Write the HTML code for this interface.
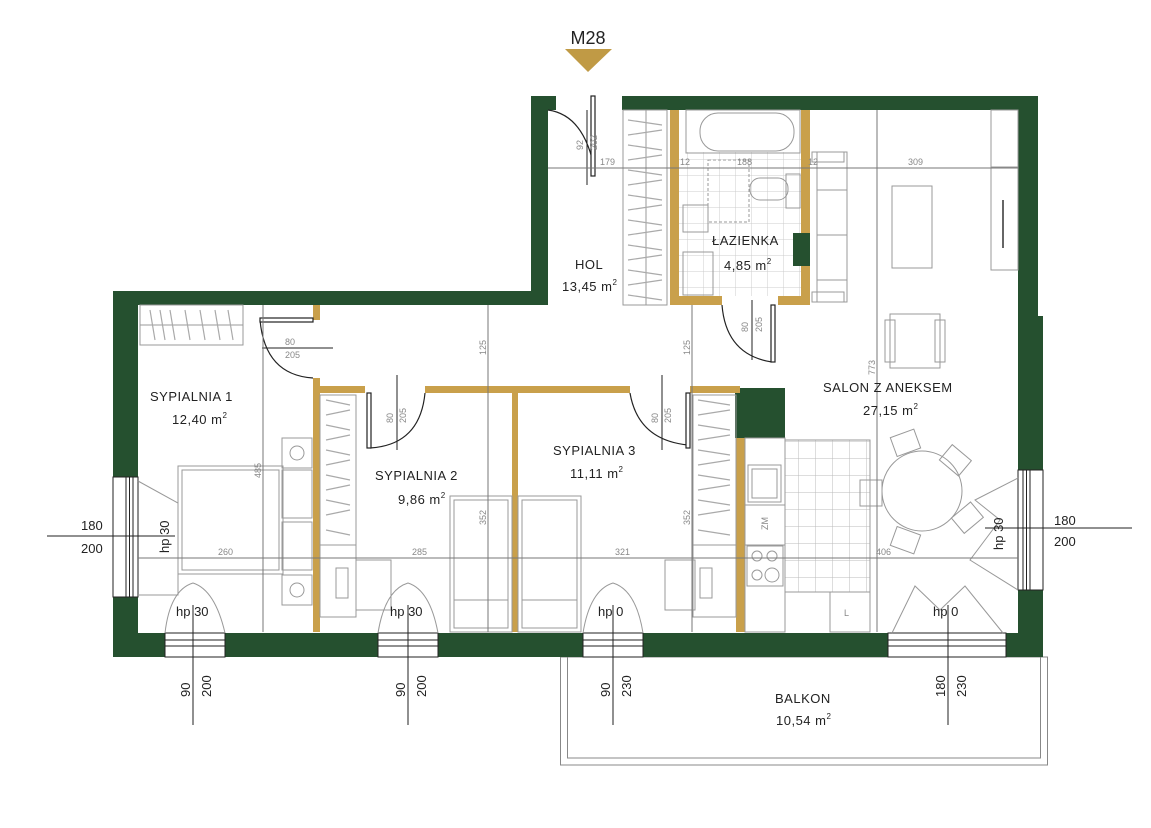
<!DOCTYPE html>
<html><head><meta charset="utf-8"><style>
html,body{margin:0;padding:0;background:#fff;}
svg{display:block;font-family:"Liberation Sans",sans-serif;}
.g{fill:#25502f;}
.au{fill:#c9a04b;}
.th{fill:none;stroke:#999;stroke-width:1;}
.dm{stroke:#777;stroke-width:1;fill:none;}
.bk{stroke:#222;stroke-width:1.2;fill:none;}
.lb{font-size:13px;fill:#222;letter-spacing:0.5px;}
.sm{font-size:9px;fill:#888;}
.wd{font-size:13px;fill:#222;}
</style></head><body>
<svg width="1151" height="828" viewBox="0 0 1151 828" xmlns="http://www.w3.org/2000/svg">
<defs>
<pattern id="tile" width="16" height="16" patternUnits="userSpaceOnUse"><path d="M16 0V16H0" fill="none" stroke="#ccc" stroke-width="1"/></pattern>
<pattern id="tile2" width="17" height="17" patternUnits="userSpaceOnUse"><path d="M17 0V17H0" fill="none" stroke="#bbb" stroke-width="1"/></pattern>
</defs>
<rect width="1151" height="828" fill="#fff"/>

<!-- title -->
<text x="588" y="44" text-anchor="middle" font-size="18" fill="#222">M28</text>
<polygon points="565,49 612,49 588,72" fill="#c09a45"/>

<!-- balcony -->
<rect x="560.5" y="657" width="487" height="108" fill="none" stroke="#888" stroke-width="1"/>
<rect x="567.5" y="657" width="473" height="101" fill="none" stroke="#888" stroke-width="1"/>

<!-- floors / tiles -->
<rect x="679" y="152" width="122" height="144" fill="url(#tile)"/>
<rect x="785" y="440" width="85" height="152" fill="url(#tile2)"/>
<rect x="785" y="440" width="85" height="152" class="th"/>

<!-- outer walls -->
<rect class="g" x="531" y="96" width="25" height="14"/>
<rect class="g" x="531" y="96" width="17" height="209"/>
<rect class="g" x="622" y="96" width="416" height="14"/>
<rect class="g" x="1018" y="96" width="20" height="220"/>
<rect class="g" x="1018" y="316" width="25" height="341"/>
<rect class="g" x="113" y="291" width="435" height="14"/>
<rect class="g" x="113" y="291" width="25" height="366"/>
<rect class="g" x="113" y="633" width="930" height="24"/>
<rect class="g" x="735" y="388" width="50" height="50"/>
<rect class="g" x="793" y="233" width="17" height="33"/>

<!-- windows left/right -->
<rect x="113" y="477" width="25" height="120" fill="#fff" stroke="#222"/>
<rect x="126" y="477" width="7" height="120" fill="#fff" stroke="#222"/>
<line x1="129.5" y1="477" x2="129.5" y2="597" stroke="#222"/>
<rect x="1018" y="470" width="25" height="120" fill="#fff" stroke="#222"/>
<rect x="1023" y="470" width="7" height="120" fill="#fff" stroke="#222"/>
<line x1="1026.5" y1="470" x2="1026.5" y2="590" stroke="#222"/>
<!-- bottom windows -->
<g fill="#fff" stroke="#222">
<rect x="165" y="633" width="60" height="24"/><rect x="165" y="640" width="60" height="6"/>
<rect x="378" y="633" width="60" height="24"/><rect x="378" y="640" width="60" height="6"/>
<rect x="583" y="633" width="60" height="24"/><rect x="583" y="640" width="60" height="6"/>
<rect x="888" y="633" width="118" height="24"/><rect x="888" y="640" width="118" height="6"/>
</g>
<!-- window swing lines -->
<g class="th" stroke="#999">
<polyline points="138,481 178,503 178,595 138,595"/>
<path d="M165 633 Q170 590 193 583 Q215 590 225 633"/>
<path d="M378 633 Q385 590 408 583 Q430 590 438 633"/>
<path d="M583 633 Q590 590 613 583 Q636 590 643 633"/>
<polyline points="892,633 915,586 940,610 965,586 1003,633"/>
<polyline points="1018,478 975,500 1000,520 970,560 1018,590"/>
</g>

<!-- gold interior walls -->
<rect class="au" x="313" y="305" width="7" height="15"/>
<rect class="au" x="313" y="378" width="7" height="254"/>
<rect class="au" x="313" y="386" width="52" height="7"/>
<rect class="au" x="425" y="386" width="205" height="7"/>
<rect class="au" x="690" y="386" width="50" height="7"/>
<rect class="au" x="512" y="390" width="6" height="242"/>
<rect class="au" x="736" y="438" width="9" height="194"/>
<rect class="au" x="670" y="110" width="9" height="195"/>
<rect class="au" x="801" y="110" width="9" height="123"/>
<rect class="au" x="801" y="266" width="9" height="39"/>
<rect class="au" x="670" y="296" width="52" height="9"/>
<rect class="au" x="778" y="296" width="32" height="9"/>

<!-- doors -->
<g class="bk">
<path d="M548 110 Q585 115 595 172"/><rect x="591" y="96" width="4" height="80" fill="#fff"/>
<path d="M260 320 Q265 375 313 378"/><rect x="260" y="318" width="53" height="4" fill="#fff"/>
<path d="M425 393 Q420 445 370 448"/><rect x="367" y="393" width="4" height="55" fill="#fff"/>
<path d="M630 393 Q638 440 688 445"/><rect x="686" y="393" width="4" height="55" fill="#fff"/>
<path d="M722 305 Q726 355 772 362"/><rect x="771" y="305" width="4" height="57" fill="#fff"/>
</g>
<g stroke="#222" stroke-width="1">
<line x1="587" y1="110" x2="587" y2="185"/>
<line x1="262" y1="348" x2="333" y2="348"/>
<line x1="397" y1="375" x2="397" y2="450"/>
<line x1="662" y1="375" x2="662" y2="450"/>
<line x1="752" y1="300" x2="752" y2="360"/>
</g>
<g class="sm" fill="#333" font-size="8">
<text transform="translate(583,150) rotate(-90)">92</text><text transform="translate(597,150) rotate(-90)">202</text>
<text x="285" y="345">80</text><text x="285" y="358">205</text>
<text transform="translate(393,423) rotate(-90)">80</text><text transform="translate(406,423) rotate(-90)">205</text>
<text transform="translate(658,423) rotate(-90)">80</text><text transform="translate(671,423) rotate(-90)">205</text>
<text transform="translate(748,332) rotate(-90)">80</text><text transform="translate(762,332) rotate(-90)">205</text>
</g>

<!-- wardrobes -->
<g class="th">
<rect x="623" y="110" width="44" height="195"/><line x1="646" y1="110" x2="646" y2="305"/>
<rect x="140" y="305" width="103" height="40"/><line x1="140" y1="325" x2="243" y2="325"/>
<rect x="320" y="395" width="36" height="150"/>
<rect x="693" y="395" width="43" height="150"/>
</g>
<g stroke="#aaa" stroke-width="1.2">
<path d="M628 120L662 125M628 135L662 130M628 145L662 150M628 160L662 155M628 170L662 175M628 185L662 180M628 195L662 200M628 210L662 205M628 220L662 225M628 235L662 230M628 245L662 250M628 260L662 255M628 270L662 275M628 285L662 280M628 295L662 300"/>
<path d="M150 310L155 340M160 310L165 340M170 310L175 340M185 310L190 340M200 310L205 340M215 310L220 340M228 310L233 340"/>
<path d="M326 400L350 405M326 415L350 410M326 425L350 430M326 440L350 435M326 450L350 455M326 465L350 460M326 475L350 480M326 490L350 485M326 500L350 505M326 515L350 510M326 530L350 535"/>
<path d="M698 400L730 405M698 415L730 410M698 425L730 430M698 440L730 435M698 450L730 455M698 465L730 460M698 475L730 480M698 490L730 485M698 500L730 505M698 515L730 510M698 530L730 535"/>
</g>

<!-- bathroom fixtures -->
<g class="th" stroke="#888">
<rect x="686" y="110" width="114" height="43"/>
<rect x="700" y="113" width="94" height="38" rx="18"/>
<rect x="750" y="178" width="38" height="22" rx="10"/><rect x="786" y="174" width="14" height="34"/>
<rect x="683" y="205" width="25" height="27"/>
<rect x="683" y="252" width="30" height="43"/>
<rect x="708" y="160" width="41" height="62" stroke-dasharray="3,2"/>
</g>

<!-- living room furniture -->
<g class="th" stroke="#999">
<rect x="817" y="152" width="30" height="150"/>
<line x1="817" y1="190" x2="847" y2="190"/><line x1="817" y1="235" x2="847" y2="235"/><line x1="817" y1="280" x2="847" y2="280"/>
<rect x="812" y="152" width="32" height="10"/><rect x="812" y="292" width="32" height="10"/>
<rect x="892" y="186" width="40" height="82"/>
<rect x="991" y="110" width="27" height="160"/><line x1="991" y1="167" x2="1018" y2="167"/>
<line x1="1003" y1="200" x2="1003" y2="248" stroke="#666" stroke-width="2"/>
<rect x="890" y="314" width="50" height="54"/><rect x="885" y="320" width="10" height="42"/><rect x="935" y="320" width="10" height="42"/>
<circle cx="922" cy="491" r="40"/>
<rect x="860" y="480" width="22" height="26"/>
<rect x="893" y="433" width="25" height="20" transform="rotate(-20 905 443)"/>
<rect x="943" y="450" width="25" height="20" transform="rotate(40 955 460)"/>
<rect x="955" y="508" width="25" height="20" transform="rotate(-40 967 518)"/>
<rect x="893" y="530" width="25" height="20" transform="rotate(20 905 540)"/>
<!-- kitchen -->
<rect x="745" y="438" width="40" height="194"/>
<rect x="748" y="465" width="33" height="37"/><rect x="752" y="469" width="25" height="29"/>
<line x1="745" y1="505" x2="785" y2="505"/><line x1="745" y1="545" x2="785" y2="545"/>
<rect x="747" y="546" width="36" height="40"/>
<circle cx="757" cy="556" r="5"/><circle cx="772" cy="556" r="5"/><circle cx="757" cy="575" r="5"/><circle cx="772" cy="575" r="7"/>
<rect x="830" y="592" width="40" height="40"/>
<!-- bedroom 1 -->
<rect x="178" y="466" width="105" height="108"/><rect x="182" y="470" width="97" height="100"/>
<rect x="282" y="470" width="30" height="48"/><rect x="282" y="522" width="30" height="48"/>
<rect x="282" y="438" width="30" height="30"/><circle cx="297" cy="453" r="7"/>
<rect x="282" y="575" width="30" height="30"/><circle cx="297" cy="590" r="7"/>
<!-- desks -->
<rect x="320" y="545" width="36" height="72"/><rect x="356" y="560" width="35" height="50"/>
<rect x="336" y="568" width="12" height="30"/>
<rect x="693" y="545" width="43" height="72"/><rect x="665" y="560" width="30" height="50"/>
<rect x="700" y="568" width="12" height="30"/>
<!-- beds -->
<rect x="450" y="496" width="62" height="136"/><rect x="454" y="500" width="54" height="128"/>
<rect x="454" y="600" width="54" height="28"/>
<rect x="518" y="496" width="63" height="136"/><rect x="522" y="500" width="55" height="128"/>
<rect x="522" y="600" width="55" height="28"/>
</g>

<!-- dimension lines -->
<g class="dm">
<line x1="548" y1="168" x2="1018" y2="168"/>
<line x1="138" y1="558" x2="1018" y2="558"/>
<line x1="488" y1="305" x2="488" y2="632"/>
<line x1="692" y1="305" x2="692" y2="632"/>
<line x1="877" y1="110" x2="877" y2="632"/>
<line x1="263" y1="305" x2="263" y2="632"/>
</g>
<g class="sm">
<text x="600" y="165">179</text><text x="680" y="165">12</text><text x="737" y="165">188</text><text x="808" y="165">12</text><text x="908" y="165">309</text>
<text x="218" y="555">260</text><text x="412" y="555">285</text><text x="615" y="555">321</text><text x="876" y="555">406</text>
<text transform="translate(486,355) rotate(-90)">125</text><text transform="translate(690,355) rotate(-90)">125</text>
<text transform="translate(486,525) rotate(-90)">352</text><text transform="translate(690,525) rotate(-90)">352</text>
<text transform="translate(875,375) rotate(-90)">773</text><text transform="translate(261,478) rotate(-90)">485</text>
</g>

<!-- window dims -->
<g stroke="#222" stroke-width="1">
<line x1="47" y1="536" x2="175" y2="536"/>
<line x1="985" y1="528" x2="1132" y2="528"/>
<line x1="193" y1="605" x2="193" y2="725"/>
<line x1="408" y1="605" x2="408" y2="725"/>
<line x1="613" y1="605" x2="613" y2="725"/>
<line x1="948" y1="605" x2="948" y2="725"/>
</g>
<g class="wd">
<text x="81" y="530">180</text><text x="81" y="553">200</text>
<text x="1054" y="525">180</text><text x="1054" y="546">200</text>
<text transform="translate(190,697) rotate(-90)">90</text><text transform="translate(211,697) rotate(-90)">200</text>
<text transform="translate(405,697) rotate(-90)">90</text><text transform="translate(426,697) rotate(-90)">200</text>
<text transform="translate(610,697) rotate(-90)">90</text><text transform="translate(631,697) rotate(-90)">230</text>
<text transform="translate(945,697) rotate(-90)">180</text><text transform="translate(966,697) rotate(-90)">230</text>
<text x="176" y="616">hp 30</text><text x="390" y="616">hp 30</text><text x="598" y="616">hp 0</text><text x="933" y="616">hp 0</text>
<text transform="translate(169,553) rotate(-90)">hp 30</text>
<text transform="translate(1003,550) rotate(-90)">hp 30</text>
</g>

<!-- room labels -->
<g class="lb">
<text x="575" y="269">HOL</text><text x="562" y="291">13,45 m<tspan font-size="8" dy="-6">2</tspan></text>
<text x="712" y="245">ŁAZIENKA</text><text x="724" y="270">4,85 m<tspan font-size="8" dy="-6">2</tspan></text>
<text x="150" y="401">SYPIALNIA 1</text><text x="172" y="424">12,40 m<tspan font-size="8" dy="-6">2</tspan></text>
<text x="375" y="480">SYPIALNIA 2</text><text x="398" y="504">9,86 m<tspan font-size="8" dy="-6">2</tspan></text>
<text x="553" y="455">SYPIALNIA 3</text><text x="570" y="478">11,11 m<tspan font-size="8" dy="-6">2</tspan></text>
<text x="823" y="392">SALON Z ANEKSEM</text><text x="863" y="415">27,15 m<tspan font-size="8" dy="-6">2</tspan></text>
<text x="775" y="703">BALKON</text><text x="776" y="725">10,54 m<tspan font-size="8" dy="-6">2</tspan></text>
</g>
<text x="844" y="616" font-size="9" fill="#888">L</text>
<text transform="translate(768,530) rotate(-90)" font-size="9" fill="#888">ZM</text>
</svg>
</body></html>
